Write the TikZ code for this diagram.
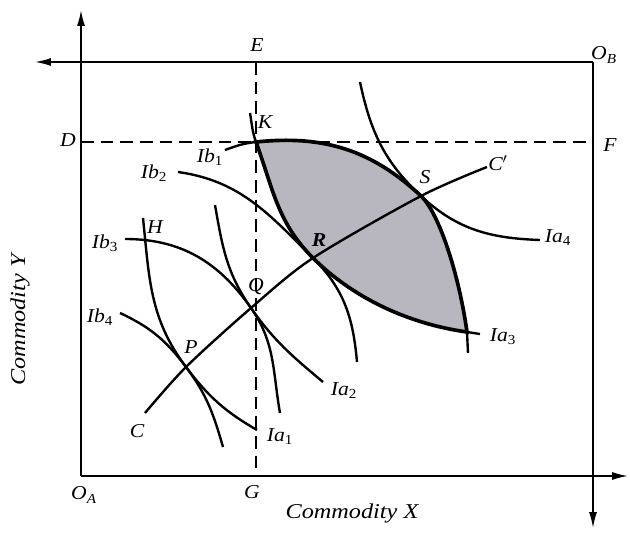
\documentclass[tikz,border=0pt]{standalone}
\usepackage{fontspec}
\setmainfont{Liberation Serif}
\usetikzlibrary{arrows.meta}
\definecolor{lensgray}{RGB}{184,182,190}
\newcommand{\sublab}[2]{#1\textsubscript{\upshape#2}}

\begin{document}
\begin{tikzpicture}[>={Latex[length=4mm,width=2mm]},
 curve/.style={line width=1.7pt},
 lens/.style={line width=2.6pt,fill=lensgray},
 axis/.style={line width=1.1pt,->},
 guide/.style={line width=.9pt,dash pattern=on 9pt off 5pt},
 every node/.style={inner sep=1pt},
 lab/.style={font=\fontsize{14}{16}\selectfont\itshape,xscale=1.1},
 title/.style={font=\fontsize{15}{17}\selectfont\itshape,xscale=1.15}]
 \useasboundingbox (-2.025,-1.425) rectangle (13.725,11.9);
 \coordinate (oa) at (0,0);
 \coordinate (ob) at (12.8,10.35);
 \coordinate (xtip) at (13.675,0);
 \coordinate (ytip) at (0,11.65);
 \coordinate (xbtip) at (-1.15,10.35);
 \coordinate (ybtip) at (12.8,-1.3);
 \coordinate (d) at (0,8.35);
 \coordinate (f) at (12.8,8.35);
 \coordinate (e) at (4.375,10.35);
 \coordinate (g) at (4.375,0);
 \coordinate (k) at (4.375,8.35);
 \coordinate (h) at (1.6,5.925);
 \coordinate (c) at (1.6,1.575);
 \coordinate (p) at (2.625,2.725);
 \coordinate (q) at (4.25,4.2);
 \coordinate (r) at (5.8,5.45);
 \coordinate (s) at (8.5,7);
 \coordinate (cp) at (10.15,7.725);
 \coordinate (lensend) at (9.65,3.6);
 \coordinate (ia1s) at (1.55,6.45);
 \coordinate (ia1e) at (4.4,1.15);
 \coordinate (ib4s) at (0.975,4.075);
 \coordinate (ib4e) at (3.55,0.725);
 \coordinate (ib3s) at (1.1,5.925);
 \coordinate (ib3e) at (4.975,1.575);
 \coordinate (ia2s) at (3.35,6.775);
 \coordinate (ia2e) at (6.05,2.35);
 \coordinate (ib2s) at (2.425,7.6);
 \coordinate (ib2e) at (6.9,2.85);
 \coordinate (ia3s) at (4.225,9.075);
 \coordinate (ia3e) at (9.975,3.55);
 \coordinate (ib1s) at (3.6,8.15);
 \coordinate (ib1e) at (9.675,3.075);
 \coordinate (ia4s) at (6.975,9.85);
 \coordinate (ia4e) at (11.475,5.9);
 \draw[axis] (oa) -- (ytip);
 \draw[axis] (oa) -- (xtip);
 \draw[axis] (ob) -- (xbtip);
 \draw[axis] (ob) -- (ybtip);
 \draw[guide] (d) -- (f);
 \draw[guide] (e) -- (g);
 \filldraw[lens] (k) to[out=6,in=137] (s) .. controls +(-43:.6) and +(98:1.5) .. (lensend)
   .. controls +(172:1.7) and +(-45:1.2) .. (r) to[out=135,in=-70] (k) -- cycle;
 \draw[curve] (ia1s) to[out=-84,in=127] (p) to[out=-53,in=150] (ia1e);
 \draw[curve] (ib4s) to[out=-25,in=127] (p) to[out=-53,in=106] (ib4e);
 \draw[curve] (ib3s) to[out=0,in=125] (q) to[out=-55,in=100] (ib3e);
 \draw[curve] (ia2s) to[out=-80,in=125] (q) to[out=-55,in=140] (ia2e);
 \draw[curve] (ib2s) to[out=-8,in=135] (r) to[out=-45,in=95] (ib2e);
 \draw[curve] (ia3s) to[out=-80,in=110] (k) to[out=-70,in=135] (r)
   .. controls +(-45:1.2) and +(172:1.7) .. (lensend) -- (ia3e);
 \draw[curve] (ib1s) to[out=20,in=186] (k) to[out=6,in=137] (s)
   .. controls +(-43:.6) and +(98:1.5) .. (lensend) -- (ib1e);
 \draw[curve] (ia4s) to[out=-78,in=137] (s) to[out=-43,in=178] (ia4e);
 \draw[curve] plot[smooth,tension=.5] coordinates {(c) (p) (q) (r) (s) (cp)};
 \node[lab] (le) at (4.4,10.775) {E};
 \node[lab] (lob) at (13.075,10.525) {O\textsubscript{B}};
 \node[lab] (ld) at (-0.325,8.4) {D};
 \node[lab] (lf) at (13.225,8.275) {F};
 \node[lab] (loa) at (0.075,-0.475) {O\textsubscript{A}};
 \node[lab] (lg) at (4.275,-0.4) {G};
 \node[lab] (lk) at (4.6,8.85) {K};
 \node[lab] (lh) at (1.85,6.225) {H};
 \node[lab] (lp) at (2.75,3.225) {P};
 \node[lab] (lq) at (4.375,4.725) {Q};
 \node[lab,font=\fontsize{14}{16}\selectfont\bfseries\itshape] (lr) at (5.95,5.9) {R};
 \node[lab] (ls) at (8.6,7.475) {S};
 \node[lab] (lc) at (1.4,1.125) {C};
 \node[lab] (lcp) at (10.425,7.825) {C$'$};
 \node[lab] (lib1) at (3.225,7.975) {\sublab{Ib}{1}};
 \node[lab] (lib2) at (1.825,7.575) {\sublab{Ib}{2}};
 \node[lab] (lib3) at (0.6,5.825) {\sublab{Ib}{3}};
 \node[lab] (lib4) at (0.475,3.975) {\sublab{Ib}{4}};
 \node[lab] (lia1) at (4.975,0.975) {\sublab{Ia}{1}};
 \node[lab] (lia2) at (6.575,2.125) {\sublab{Ia}{2}};
 \node[lab] (lia3) at (10.55,3.475) {\sublab{Ia}{3}};
 \node[lab] (lia4) at (11.925,5.95) {\sublab{Ia}{4}};
 \node[title] (tx) at (6.775,-0.925) {Commodity X};
 \node[rotate=90,title] (ty) at (-1.525,3.9) {Commodity Y};
\end{tikzpicture}
\end{document}
